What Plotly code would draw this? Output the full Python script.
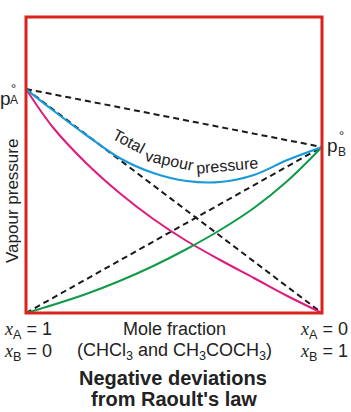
import plotly.graph_objects as go

# Mole fraction of B (0 = pure A at left, 1 = pure B at right)
x_frac = [0, 0.09, 0.203, 0.316, 0.43, 0.543, 0.656, 0.77, 0.883, 1.0]
# Partial pressure of A (CHCl3) - magenta
p_A = [224, 186, 150, 120, 94, 72, 53, 35, 17, 0]
# Partial pressure of B (CH3COCH3) - green
p_B = [0, 8, 19, 32, 47, 64, 83, 105, 132, 166]
# Total vapour pressure - blue
p_total = [224, 203, 178, 155, 140, 132, 131, 138, 153, 166]
# Pure-component pressures
pA0 = 224
pB0 = 166

W, H = 351, 412
L, R, T, B = 26, 322, 17, 313
YMAX = 296

def px(x):
    return (x - L) / (R - L)

def py(y):
    return (B - y) / (B - T)

fig = go.Figure()
dash = dict(color="#1a1a1a", width=2, dash="6px,4px")
fig.add_trace(go.Scatter(x=[0, 1], y=[pA0, pB0], mode="lines", line=dash))
fig.add_trace(go.Scatter(x=[0, 1], y=[pA0, 0], mode="lines", line=dash))
fig.add_trace(go.Scatter(x=[0, 1], y=[0, pB0], mode="lines", line=dash))
fig.add_trace(go.Scatter(x=x_frac, y=p_A, mode="lines",
                         line=dict(color="#e0197d", width=2, shape="spline", smoothing=1)))
fig.add_trace(go.Scatter(x=x_frac, y=p_B, mode="lines",
                         line=dict(color="#0f9a48", width=2, shape="spline", smoothing=1)))
fig.add_trace(go.Scatter(x=x_frac, y=p_total, mode="lines",
                         line=dict(color="#1a9ad6", width=2.2, shape="spline", smoothing=1)))

fig.add_shape(type="rect", xref="paper", yref="paper", x0=0, y0=0, x1=1, y1=1,
              line=dict(color="#d9231d", width=3))

sans = "Liberation Sans, Arial, sans-serif"
ann = []
def A(text, x, y, size=16, angle=0, xa="center", ya="middle", family=sans):
    ann.append(dict(text=text, xref="paper", yref="paper", x=px(x), y=py(y),
                    showarrow=False, xanchor=xa, yanchor=ya, textangle=angle,
                    font=dict(size=size, family=family, color="#222")))

# curve label
A("Total", 129, 141, size=16, angle=28)
A("vapour", 170, 160, size=16, angle=12)
A("pressure", 227, 165, size=16, angle=-5)

# p°A and p°B
A("p", 5, 99, size=19)
A("°", 13, 89, size=13)
A("A", 14, 100, size=12)
A("p", 333, 145, size=19)
A("°", 341, 135, size=13)
A("B", 342, 152, size=12)

# axis title
A("Vapour pressure", 12, 201, size=17, angle=-90)

xi = "<span style='font-family:Liberation Serif;font-style:italic'>x</span>"
A(xi + "<sub>A</sub> = 1", 2, 330, size=18, xa="left")
A(xi + "<sub>B</sub> = 0", 2, 352, size=18, xa="left")
A(xi + "<sub>A</sub> = 0", 350, 330, size=18, xa="right")
A(xi + "<sub>B</sub> = 1", 350, 352, size=18, xa="right")
A("Mole fraction", 174, 329, size=18)
A("(CHCl<sub>3</sub> and CH<sub>3</sub>COCH<sub>3</sub>)", 174, 351, size=18)
A("<b>Negative deviations</b>", 173, 378, size=20)
A("<b>from Raoult's law</b>", 174, 399, size=20)

fig.update_layout(
    width=W, height=H,
    margin=dict(l=L, r=W - R, t=T, b=H - B, pad=0),
    paper_bgcolor="white", plot_bgcolor="white",
    showlegend=False,
    annotations=ann,
    xaxis=dict(range=[0, 1], visible=False, fixedrange=True),
    yaxis=dict(range=[0, YMAX], visible=False, fixedrange=True),
)

fig.write_html("out.html", config={"displayModeBar": False})
